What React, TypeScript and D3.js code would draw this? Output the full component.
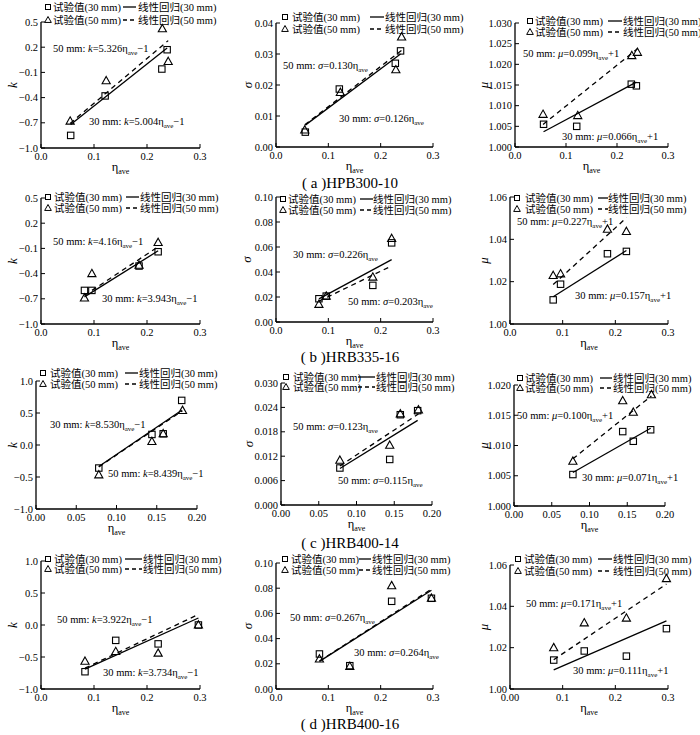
import React from 'react';
import * as d3 from 'd3';

const W = 700, H = 735;
const SERIF = '"Liberation Serif", "Times New Roman", "Noto Sans CJK SC", serif';

// ---- specimens / captions ----
const captions = ['( a )HPB300-10', '( b )HRB335-16', '( c )HRB400-14', '( d )HRB400-16'];

// ---- eta_ave of the tests ----
const etaA30 = [0.056, 0.121, 0.228, 0.238];
const etaA50 = [0.055, 0.123, 0.229, 0.240];
const etaB30 = [0.082, 0.096, 0.185, 0.221];
const etaB50 = [0.082, 0.096, 0.185, 0.221];
const etaC30 = [0.078, 0.144, 0.158, 0.181];
const etaC50 = [0.078, 0.144, 0.158, 0.182];
const etaD30 = [0.083, 0.141, 0.221, 0.297];
const etaD50 = [0.083, 0.141, 0.221, 0.297];

// ---- k ----
const kA30 = [-0.85, -0.38, -0.06, 0.17];
const kA50 = [-0.68, -0.20, 0.42, 0.03];
const kB30 = [-0.60, -0.60, -0.31, -0.14];
const kB50 = [-0.69, -0.40, -0.30, -0.03];
const kC30 = [-0.36, 0.165, 0.175, 0.697];
const kC50 = [-0.467, 0.055, 0.175, 0.54];
const kD30 = [-0.73, -0.24, -0.295, 0.0];
const kD50 = [-0.567, -0.415, -0.44, 0.0];

// ---- sigma ----
const sA30 = [0.0048, 0.0187, 0.0270, 0.0310];
const sA50 = [0.0055, 0.0176, 0.0249, 0.0355];
const sB30 = [0.0186, 0.0207, 0.0293, 0.0633];
const sB50 = [0.0141, 0.0207, 0.0359, 0.0668];
const sC30 = [0.0091, 0.0112, 0.0222, 0.0232];
const sC50 = [0.0110, 0.0147, 0.0224, 0.0234];
const sD30 = [0.0278, 0.0185, 0.0696, 0.0720];
const sD50 = [0.0238, 0.0180, 0.0820, 0.0720];

// ---- mu ----
const mA30 = [1.0055, 1.0050, 1.0152, 1.0148];
const mA50 = [1.0079, 1.0076, 1.0221, 1.0229];
const mB30 = [1.0114, 1.0188, 1.0332, 1.0343];
const mB50 = [1.0229, 1.0237, 1.0448, 1.0437];
const mC30 = [1.0052, 1.0123, 1.0107, 1.0126];
const mC50 = [1.0074, 1.0174, 1.0155, 1.0184];
const mD30 = [1.0140, 1.0184, 1.0159, 1.0292];
const mD50 = [1.0200, 1.0320, 1.0343, 1.0534];

// ---- regression slopes ----
const kSlope30 = ['5.004', '3.943', '8.530', '3.734'];
const kSlope50 = ['5.326', '4.16', '8.439', '3.922'];
const sSlope30 = ['0.126', '0.226', '0.115', '0.264'];
const sSlope50 = ['0.130', '0.203', '0.123', '0.267'];
const mSlope30 = ['0.066', '0.157', '0.071', '0.111'];
const mSlope50 = ['0.099', '0.227', '0.100', '0.171'];

// ---- ticks ----
const kTicksAB = [-1.0, -0.7, -0.4, -0.1, 0.2, 0.5];
const kTicksCD = [-1.0, -0.5, 0.0, 0.5, 1.0];
const sTicksA = [0, 0.01, 0.02, 0.03, 0.04];
const sTicksBD = [0, 0.02, 0.04, 0.06, 0.08, 0.10];
const sTicksC = [0, 0.006, 0.012, 0.018, 0.024, 0.030];
const mTicksA = [1.000, 1.005, 1.010, 1.015, 1.020, 1.025, 1.030];
const mTicksBD = [1.00, 1.02, 1.04, 1.06];
const mTicksC = [1.000, 1.005, 1.010, 1.015, 1.020];
const xTicks3 = [0, 0.1, 0.2, 0.3];
const xTicks2 = [0, 0.05, 0.1, 0.15, 0.2];
const xLabels3 = ['0.0', '0.1', '0.2', '0.3'];
const xLabels3b = ['0.00', '0.1', '0.2', '0.3'];
const xLabels2 = ['0.00', '0.05', '0.10', '0.15', '0.20'];

type Ann = { mm: string; series: 30 | 50; dx: number; dy: number };
type Panel = {
  box: [number, number, number, number];
  xMax: number; xTicks: number[]; xLabels: string[];
  yDomain: [number, number]; yTicks: number[]; yFmt: string;
  sym: string; icpt: number; icptStr: string;
  eta30: number[]; eta50: number[]; v30: number[]; v50: number[];
  slope30: string; slope50: string;
  ann: Ann[];
  leg: number[]; // sqDx, textDx, lineX1, lineX2, text2Dx, row1Dy, row2Dy
  yLabOff: number;
};

const panels: Panel[] = [
  // row a
  { box: [41, 22, 200, 148], xMax: 0.3, xTicks: xTicks3, xLabels: xLabels3, yDomain: [-1, 0.5], yTicks: kTicksAB, yFmt: '.1f',
    sym: 'k', icpt: -1, icptStr: '−1', eta30: etaA30, eta50: etaA50, v30: kA30, v50: kA50, slope30: kSlope30[0], slope50: kSlope50[0],
    ann: [{ mm: '50', series: 50, dx: 12, dy: 26 }, { mm: '30', series: 30, dx: 48, dy: 99 }],
    leg: [7, 12, 82, 95, 97, -15, -2], yLabOff: -29 },
  { box: [276, 23, 433, 147], xMax: 0.3, xTicks: xTicks3, xLabels: xLabels3, yDomain: [0, 0.04], yTicks: sTicksA, yFmt: '.2f',
    sym: 'σ', icpt: 0, icptStr: '', eta30: etaA30, eta50: etaA50, v30: sA30, v50: sA50, slope30: sSlope30[0], slope50: sSlope50[0],
    ann: [{ mm: '50', series: 50, dx: 7, dy: 42 }, { mm: '30', series: 30, dx: 63, dy: 95 }],
    leg: [9, 16, 94, 108, 109, -6, 6], yLabOff: -29 },
  { box: [515, 23, 668, 147], xMax: 0.3, xTicks: xTicks3, xLabels: xLabels3, yDomain: [1, 1.03], yTicks: mTicksA, yFmt: '.3f',
    sym: 'μ', icpt: 1, icptStr: '+1', eta30: etaA30, eta50: etaA50, v30: mA30, v50: mA50, slope30: mSlope30[0], slope50: mSlope50[0],
    ann: [{ mm: '50', series: 50, dx: 8, dy: 30 }, { mm: '30', series: 30, dx: 47, dy: 113 }],
    leg: [15, 20, 93, 107, 108, -2, 9], yLabOff: -32 },
  // row b
  { box: [41, 198, 200, 324], xMax: 0.3, xTicks: xTicks3, xLabels: xLabels3, yDomain: [-1, 0.5], yTicks: kTicksAB, yFmt: '.1f',
    sym: 'k', icpt: -1, icptStr: '−1', eta30: etaB30, eta50: etaB50, v30: kB30, v50: kB50, slope30: kSlope30[1], slope50: kSlope50[1],
    ann: [{ mm: '50', series: 50, dx: 12, dy: 43 }, { mm: '30', series: 30, dx: 61, dy: 100 }],
    leg: [7, 13, 85, 98, 99, -1, 10], yLabOff: -29 },
  { box: [276, 197, 433, 322], xMax: 0.3, xTicks: xTicks3, xLabels: xLabels3, yDomain: [0, 0.1], yTicks: sTicksBD, yFmt: '.2f',
    sym: 'σ', icpt: 0, icptStr: '', eta30: etaB30, eta50: etaB50, v30: sB30, v50: sB50, slope30: sSlope30[1], slope50: sSlope50[1],
    ann: [{ mm: '30', series: 30, dx: 17, dy: 57 }, { mm: '50', series: 50, dx: 72, dy: 104 }],
    leg: [7, 12, 84, 97, 97, 2, 13], yLabOff: -30 },
  { box: [510, 197, 668, 324], xMax: 0.3, xTicks: xTicks3, xLabels: xLabels3, yDomain: [1, 1.06], yTicks: mTicksBD, yFmt: '.2f',
    sym: 'μ', icpt: 1, icptStr: '+1', eta30: etaB30, eta50: etaB50, v30: mB30, v50: mB50, slope30: mSlope30[1], slope50: mSlope50[1],
    ann: [{ mm: '50', series: 50, dx: 7, dy: 24 }, { mm: '30', series: 30, dx: 65, dy: 98 }],
    leg: [7, 15, 88, 98, 98, 1, 12], yLabOff: -27 },
  // row c
  { box: [36, 381, 197, 509], xMax: 0.2, xTicks: xTicks2, xLabels: xLabels2, yDomain: [-1, 1], yTicks: kTicksCD, yFmt: '.1f',
    sym: 'k', icpt: -1, icptStr: '−1', eta30: etaC30, eta50: etaC50, v30: kC30, v50: kC50, slope30: kSlope30[2], slope50: kSlope50[2],
    ann: [{ mm: '30', series: 30, dx: 14, dy: 43 }, { mm: '50', series: 50, dx: 72, dy: 92 }],
    leg: [7, 14, 89, 102, 103, -8, 3], yLabOff: -24 },
  { box: [281, 383, 432, 505], xMax: 0.2, xTicks: xTicks2, xLabels: xLabels2, yDomain: [0, 0.03], yTicks: sTicksC, yFmt: '.3f',
    sym: 'σ', icpt: 0, icptStr: '', eta30: etaC30, eta50: etaC50, v30: sC30, v50: sC50, slope30: sSlope30[2], slope50: sSlope50[2],
    ann: [{ mm: '50', series: 50, dx: 12, dy: 43 }, { mm: '50', series: 30, dx: 57, dy: 97 }],
    leg: [5, 12, 77, 94, 95, -6, 4], yLabOff: -33 },
  { box: [514, 385, 665, 506], xMax: 0.2, xTicks: xTicks2, xLabels: xLabels2, yDomain: [1, 1.02], yTicks: mTicksC, yFmt: '.3f',
    sym: 'μ', icpt: 1, icptStr: '+1', eta30: etaC30, eta50: etaC50, v30: mC30, v50: mC50, slope30: mSlope30[2], slope50: mSlope50[2],
    ann: [{ mm: '50', series: 50, dx: 3, dy: 30 }, { mm: '30', series: 30, dx: 68, dy: 92 }],
    leg: [6, 11, 86, 98, 99, -7, 3], yLabOff: -31 },
  // row d
  { box: [41, 561, 200, 689], xMax: 0.3, xTicks: xTicks3, xLabels: xLabels3, yDomain: [-1, 1], yTicks: kTicksCD, yFmt: '.1f',
    sym: 'k', icpt: -1, icptStr: '−1', eta30: etaD30, eta50: etaD50, v30: kD30, v50: kD50, slope30: kSlope30[3], slope50: kSlope50[3],
    ann: [{ mm: '50', series: 50, dx: 16, dy: 58 }, { mm: '30', series: 30, dx: 62, dy: 111 }],
    leg: [7, 13, 84, 101, 102, -2, 8], yLabOff: -29 },
  { box: [276, 563, 433, 689], xMax: 0.3, xTicks: xTicks3, xLabels: xLabels3, yDomain: [0, 0.1], yTicks: sTicksBD, yFmt: '.2f',
    sym: 'σ', icpt: 0, icptStr: '', eta30: etaD30, eta50: etaD50, v30: sD30, v50: sD50, slope30: sSlope30[3], slope50: sSlope50[3],
    ann: [{ mm: '50', series: 50, dx: 14, dy: 54 }, { mm: '30', series: 30, dx: 78, dy: 89 }],
    leg: [9, 15, 83, 95, 96, -4, 7], yLabOff: -29 },
  { box: [510, 565, 668, 689], xMax: 0.3, xTicks: xTicks3, xLabels: xLabels3b, yDomain: [1, 1.06], yTicks: mTicksBD, yFmt: '.2f',
    sym: 'μ', icpt: 1, icptStr: '+1', eta30: etaD30, eta50: etaD50, v30: mD30, v50: mD50, slope30: mSlope30[3], slope50: mSlope50[3],
    ann: [{ mm: '50', series: 50, dx: 16, dy: 38 }, { mm: '30', series: 30, dx: 63, dy: 105 }],
    leg: [8, 14, 88, 102, 103, -6, 6], yLabOff: -27 },
];

const captionY = [188, 362, 548, 729];

const tri = (cx: number, cy: number, s = 4.3) =>
  `M${cx},${cy - s}L${cx + s * 0.95},${cy + s * 0.7}L${cx - s * 0.95},${cy + s * 0.7}Z`;

function Eq({ x, y, mm, sym, slope, icpt }: any) {
  return (
    <text x={x} y={y} fontSize={10.5} fontFamily={SERIF}>
      <tspan>{mm} mm: </tspan>
      <tspan fontStyle="italic">{sym}</tspan>
      <tspan>={slope}η</tspan>
      <tspan dy={3} fontSize={7}>ave</tspan>
      {icpt ? <tspan dy={-3}>{icpt}</tspan> : null}
    </text>
  );
}

function PanelView({ p }: { p: Panel }) {
  const [l, t, r, b] = p.box;
  const x = d3.scaleLinear().domain([0, p.xMax]).range([l, r]);
  const y = d3.scaleLinear().domain(p.yDomain).range([b, t]);
  const fmt = d3.format(p.yFmt);
  const line = d3.line<[number, number]>().x(d => x(d[0])).y(d => y(d[1]));
  const reg = (eta: number[], slope: string) => {
    const [e0, e1] = d3.extent(eta) as [number, number];
    const s = +slope;
    return line([[e0, s * e0 + p.icpt], [e1, s * e1 + p.icpt]]) || '';
  };
  const [sqDx, tDx, lx1, lx2, t2Dx, r1, r2] = p.leg;
  const ry1 = t + r1, ry2 = t + r2;
  return (
    <g>
      {/* regression lines */}
      <path d={reg(p.eta30, p.slope30)} stroke="#000" strokeWidth={1.3} fill="none" />
      <path d={reg(p.eta50, p.slope50)} stroke="#000" strokeWidth={1.3} fill="none" strokeDasharray="5,4" />
      {/* points */}
      {p.eta30.map((e, i) => (
        <rect key={'s' + i} x={x(e) - 3.2} y={y(p.v30[i]) - 3.2} width={6.4} height={6.4} fill="none" stroke="#000" strokeWidth={1.1} />
      ))}
      {p.eta50.map((e, i) => (
        <path key={'t' + i} d={tri(x(e), y(p.v50[i]))} fill="none" stroke="#000" strokeWidth={1.1} />
      ))}
      {/* axes */}
      <line x1={l} x2={r} y1={b} y2={b} stroke="#000" strokeWidth={1.3} />
      <line x1={l} x2={l} y1={b} y2={t} stroke="#000" strokeWidth={1.3} />
      {p.xTicks.map((v, i) => (
        <g key={'xt' + i}>
          <line x1={x(v)} x2={x(v)} y1={b} y2={b - 4} stroke="#000" strokeWidth={1} />
          <text x={x(v)} y={b + 11.5} fontSize={10.5} textAnchor="middle" fontFamily={SERIF}>{p.xLabels[i]}</text>
        </g>
      ))}
      {p.yTicks.map((v, i) => (
        <g key={'yt' + i}>
          <line x1={l} x2={l + 4} y1={y(v)} y2={y(v)} stroke="#000" strokeWidth={1} />
          <text x={l - 3} y={y(v) + 3.5} fontSize={10.5} textAnchor="end" fontFamily={SERIF}>{fmt(v)}</text>
        </g>
      ))}
      {/* axis labels */}
      <text x={(l + r) / 2} y={b + 22.5} fontSize={12.5} textAnchor="middle" fontFamily={SERIF}>
        η<tspan dy={3} fontSize={8}>ave</tspan>
      </text>
      <text transform={`translate(${l + p.yLabOff},${(t + b) / 2}) rotate(-90)`} fontSize={13} fontStyle="italic"
        textAnchor="middle" dominantBaseline="central" fontFamily={SERIF}>{p.sym}</text>
      {/* legend */}
      <rect x={l + sqDx - 2.5} y={ry1 - 2.5} width={5} height={5} fill="none" stroke="#000" strokeWidth={1} />
      <text x={l + tDx} y={ry1 + 3.5} fontSize={10.5} fontFamily={SERIF}>试验值(30 mm)</text>
      <path d={tri(l + sqDx, ry2, 3.5)} fill="none" stroke="#000" strokeWidth={1} />
      <text x={l + tDx} y={ry2 + 3.5} fontSize={10.5} fontFamily={SERIF}>试验值(50 mm)</text>
      <line x1={l + lx1} x2={l + lx2} y1={ry1} y2={ry1} stroke="#000" strokeWidth={1.3} />
      <text x={l + t2Dx} y={ry1 + 3.5} fontSize={10.5} fontFamily={SERIF}>线性回归(30 mm)</text>
      <line x1={l + lx1} x2={l + lx2} y1={ry2} y2={ry2} stroke="#000" strokeWidth={1.3} strokeDasharray="4,3" />
      <text x={l + t2Dx} y={ry2 + 3.5} fontSize={10.5} fontFamily={SERIF}>线性回归(50 mm)</text>
      {/* equations */}
      {p.ann.map((a, i) => (
        <Eq key={'a' + i} x={l + a.dx} y={t + a.dy + 3.5} mm={a.mm} sym={p.sym}
          slope={a.series === 30 ? p.slope30 : p.slope50} icpt={p.icptStr} />
      ))}
    </g>
  );
}

export default function App() {
  return (
    <svg width={W} height={H} style={{ position: 'absolute', left: 0, top: 0, background: '#fff' }}>
      <rect width={W} height={H} fill="#fff" />
      {panels.map((p, i) => <PanelView key={i} p={p} />)}
      {captions.map((c, i) => (
        <text key={c} x={350} y={captionY[i]} fontSize={15} textAnchor="middle" fontFamily={SERIF}>{c}</text>
      ))}
    </svg>
  );
}
